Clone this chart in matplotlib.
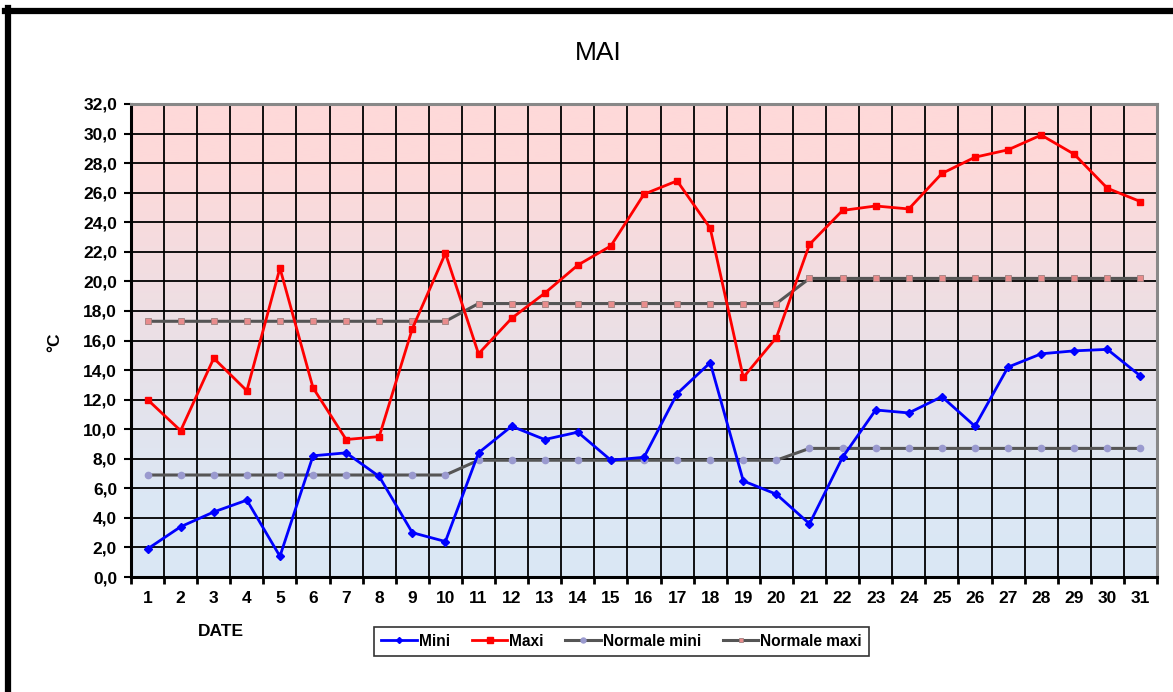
import matplotlib
matplotlib.use("Agg")
import matplotlib.pyplot as plt
import numpy as np
from matplotlib.colors import LinearSegmentedColormap
from matplotlib.lines import Line2D

plt.rcParams['font.family'] = ['Liberation Sans', 'DejaVu Sans']

days = list(range(1, 32))
day_labels = [str(d) for d in days]
mini = [1.9, 3.4, 4.4, 5.2, 1.4, 8.2, 8.4, 6.8, 3.0, 2.4,
        8.4, 10.2, 9.3, 9.8, 7.9, 8.1, 12.4, 14.5, 6.5, 5.6,
        3.6, 8.1, 11.3, 11.1, 12.2, 10.2, 14.2, 15.1, 15.3, 15.4, 13.6]
maxi = [12.0, 9.9, 14.8, 12.6, 20.9, 12.8, 9.3, 9.5, 16.8, 21.9,
        15.1, 17.5, 19.2, 21.1, 22.4, 25.9, 26.8, 23.6, 13.5, 16.2,
        22.5, 24.8, 25.1, 24.9, 27.3, 28.4, 28.9, 29.9, 28.6, 26.3, 25.4]
norm_mini = [6.9] * 10 + [7.9] * 10 + [8.7] * 11
norm_maxi = [17.3] * 10 + [18.5] * 10 + [20.2] * 11
y_ticks = [0, 2, 4, 6, 8, 10, 12, 14, 16, 18, 20, 22, 24, 26, 28, 30, 32]
y_labels = [f"{v:.1f}".replace(".", ",") for v in y_ticks]

fig = plt.figure(figsize=(11.73, 6.92), dpi=100)
ax = fig.add_axes([131 / 1173, 1 - 577 / 692, (1157 - 131) / 1173, (577 - 104) / 692])

# background gradient
cmap = LinearSegmentedColormap.from_list("bg", [(0.0, "#DAE8F5"), (0.18, "#DCE7F4"), (0.55, "#EDDFE4"), (0.85, "#FDD9DA"), (1.0, "#FFD9D9")])
grad = np.linspace(0, 1, 256).reshape(-1, 1)
ax.imshow(grad, cmap=cmap, origin="lower", aspect="auto",
          extent=[0.5, 31.5, 0, 32], zorder=0)

ax.set_xlim(0.5, 31.5)
ax.set_ylim(0, 32)

ax.plot(days, norm_mini, color="#555555", lw=2.2, marker="o", ms=4.5,
        mfc="#9A9ACF", mec="#9A9ACF", zorder=3, label="Normale mini")
ax.plot(days, norm_maxi, color="#555555", lw=2.2, marker="s", ms=4.2,
        mfc="#E88C8C", mec="#A08080", mew=0.6, zorder=3, label="Normale maxi")
ax.plot(days, mini, color="#0000FF", lw=2, marker="D", ms=3.8,
        mfc="#0000FF", mec="#0000FF", zorder=4, label="Mini")
ax.plot(days, maxi, color="#FF0000", lw=2, marker="s", ms=4.6,
        mfc="#FF0000", mec="#FF0000", zorder=4, label="Maxi")

# ticks & grid
ax.set_yticks(y_ticks)
ax.set_yticklabels(y_labels, fontsize=12.5, fontweight="bold")
ax.set_xticks(np.arange(0.5, 32, 1))
ax.set_xticklabels([])
ax.set_xticks(days, minor=True)
ax.set_xticklabels(day_labels, minor=True, fontsize=12.5, fontweight="bold")
ax.tick_params(axis="x", which="minor", length=0, pad=10)
ax.tick_params(axis="x", which="major", length=5, width=2, direction="out", color="black")
ax.tick_params(axis="y", length=5, width=1.5, direction="out", color="black", pad=5)
ax.grid(True, which="major", color="black", lw=1.3, zorder=1)
for ln in ax.get_xgridlines() + ax.get_ygridlines():
    ln.set_zorder(1)

for side in ["top", "right"]:
    ax.spines[side].set_color("#888888")
    ax.spines[side].set_linewidth(2.2)
for side in ["left", "bottom"]:
    ax.spines[side].set_color("black")
    ax.spines[side].set_linewidth(2.2)

fig.text(598 / 1173, 1 - 53 / 692, "MAI", fontsize=19, ha="center", va="center")
fig.text(55 / 1173, 1 - 342 / 692, "°C", fontsize=12.5, fontweight="bold",
         rotation=90, ha="center", va="center")
fig.text(221 / 1173, 1 - 631 / 692, "DATE", fontsize=12.5, fontweight="bold",
         ha="center", va="center")

h, l = ax.get_legend_handles_labels()
order = [2, 3, 0, 1]
leg = fig.legend([h[i] for i in order], [l[i] for i in order], ncol=4,
                 loc="center", bbox_to_anchor=(621.5 / 1173, 1 - 641 / 692),
                 prop={"weight": "bold", "size": 11.2},
                 frameon=True, fancybox=False, edgecolor="black",
                 handlelength=2.3, handletextpad=0.1, columnspacing=1.4,
                 borderpad=0.45, markerscale=0.8)
leg.get_frame().set_linewidth(1.2)

# outer frame
fig.add_artist(Line2D([5 / 1173, 1], [1 - 10.5 / 692, 1 - 10.5 / 692],
                      color="black", lw=4.5, transform=fig.transFigure))
fig.add_artist(Line2D([8 / 1173, 8 / 1173], [0, 1 - 8 / 692],
                      color="black", lw=4.5, transform=fig.transFigure))

fig.savefig("out.png", dpi=100)
